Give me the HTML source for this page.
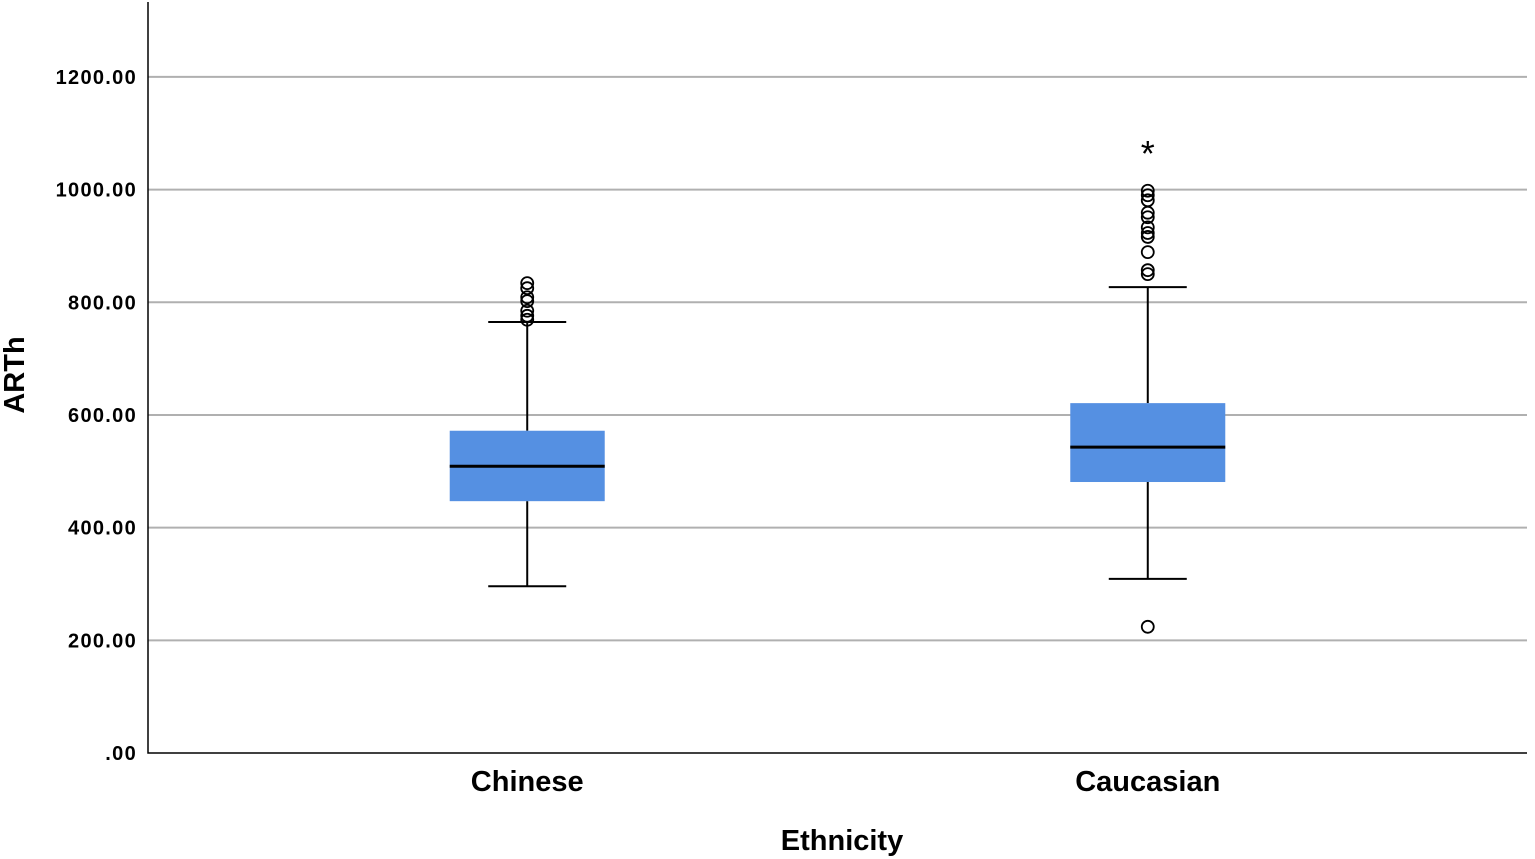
<!DOCTYPE html>
<html><head><style>
html,body{margin:0;padding:0;background:#fff;}
svg{display:block;font-family:"Liberation Sans",Arial,sans-serif;}
</style></head><body>
<svg id="chart" width="1535" height="859" xmlns="http://www.w3.org/2000/svg"></svg>
<script>
const categories=["Chinese","Caucasian"];
const q1=[447,481];
const medians=[509,543];
const q3=[572,621];
const whiskerLow=[296,309];
const whiskerHigh=[765,827];
const outliers=[[834,825,809,802,785,776,769],[998,990,981,959,951,933,923,916,889,857,850,224]];
const extremes=[[],[1074]];
const yTicks=[0,200,400,600,800,1000,1200];
const yTickLabels=[".00","200.00","400.00","600.00","800.00","1000.00","1200.00"];

const NS="http://www.w3.org/2000/svg";
const svg=document.getElementById("chart");
const L=148,R=1527,T=2,B=753,yMax=1333;
const y=v=>B-(v/yMax)*(B-T);
const x=i=>L+(R-L)*(0.275+0.45*i/(categories.length-1));
function el(t,a,p){const e=document.createElementNS(NS,t);for(const k in a)e.setAttribute(k,a[k]);(p||svg).appendChild(e);return e;}

const grid=el("g",{});


yTicks.forEach((v,i)=>{
  if(v>0){const g=el("line",{x1:L,x2:R,y1:y(v),y2:y(v),stroke:"#b0b0b0","stroke-width":2},grid);
  
  }
  const t=el("text",{x:137,y:y(v)+7,"text-anchor":"end","font-size":20,"font-weight":"bold","letter-spacing":"1.3"});
  t.textContent=yTickLabels[i];
  
  
});
const ax=el("path",{d:`M${L},${T} V${B} H${R}`,fill:"none",stroke:"#000","stroke-width":1.5});



categories.forEach((c,i)=>{
  const cx=x(i),bw=155,cw=78;
  const g=el("g",{});
  
  
  el("line",{x1:cx,x2:cx,y1:y(whiskerHigh[i]),y2:y(q3[i]),stroke:"#000","stroke-width":2},g);
  el("line",{x1:cx,x2:cx,y1:y(q1[i]),y2:y(whiskerLow[i]),stroke:"#000","stroke-width":2},g);
  el("line",{x1:cx-cw/2,x2:cx+cw/2,y1:y(whiskerHigh[i]),y2:y(whiskerHigh[i]),stroke:"#000","stroke-width":2},g);
  el("line",{x1:cx-cw/2,x2:cx+cw/2,y1:y(whiskerLow[i]),y2:y(whiskerLow[i]),stroke:"#000","stroke-width":2},g);
  el("rect",{x:cx-bw/2,y:y(q3[i]),width:bw,height:y(q1[i])-y(q3[i]),fill:"#5590e2"},g);
  el("line",{x1:cx-bw/2,x2:cx+bw/2,y1:y(medians[i]),y2:y(medians[i]),stroke:"#000","stroke-width":3},g);
  outliers[i].forEach(v=>{
    const o=el("circle",{cx:cx,cy:y(v),r:6,fill:"none",stroke:"#000","stroke-width":1.8},g);
    
    
  });
  extremes[i].forEach(v=>{
    const s=el("text",{x:cx,y:y(v)+18,"text-anchor":"middle","font-size":36},g);
    s.textContent="*";
    
    
  });
  const t=el("text",{x:cx,y:791,"text-anchor":"middle","font-size":29,"font-weight":"bold"});
  t.textContent=c;
  
  
});
const xt=el("text",{x:842,y:850,"text-anchor":"middle","font-size":29,"font-weight":"bold"});
xt.textContent="Ethnicity";


const yt=el("text",{x:0,y:0,"text-anchor":"middle","font-size":29,"font-weight":"bold",transform:"translate(24,375) rotate(-90)"});
yt.textContent="ARTh";


</script>
</body></html>
